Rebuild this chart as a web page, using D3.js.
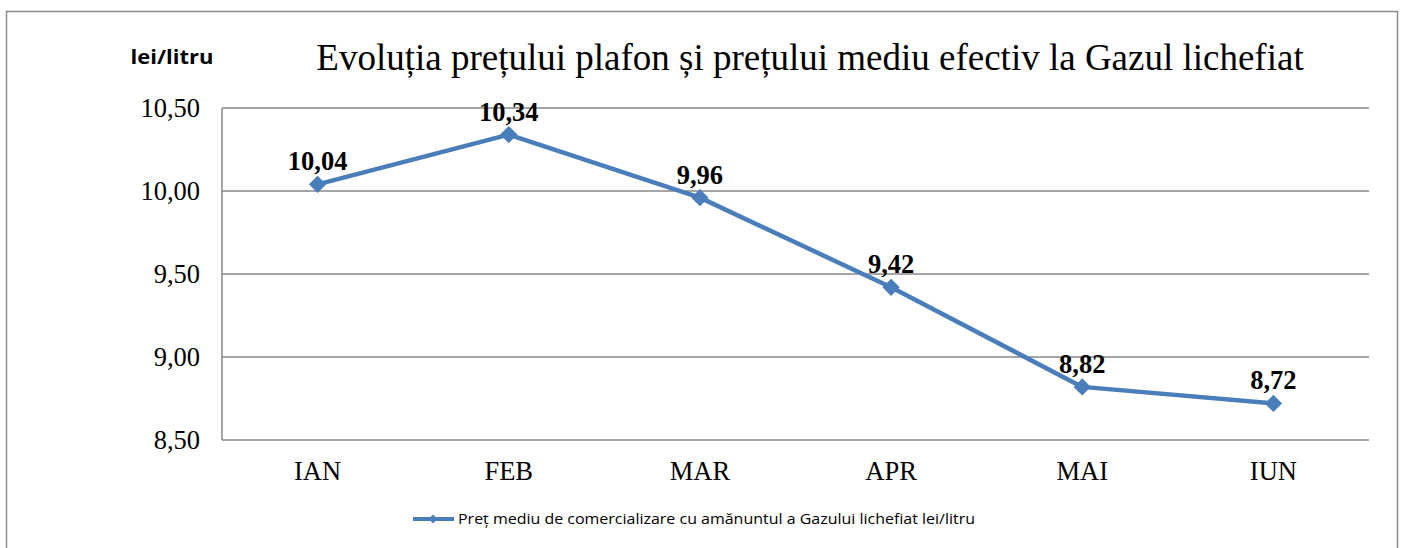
<!DOCTYPE html>
<html>
<head>
<meta charset="utf-8">
<script src="https://cdn.jsdelivr.net/npm/d3@7"></script>
<style>
  body { margin: 0; background: #fff; }
  #graf { width: 1404px; height: 548px; }
</style>
</head>
<body>
<div id="graf"></div>
<script>
// Datos
const luni = ["IAN", "FEB", "MAR", "APR", "MAI", "IUN"];
const pretMediu = [10.04, 10.34, 9.96, 9.42, 8.82, 8.72];
const ticks = [8.5, 9.0, 9.5, 10.0, 10.5];

const titlu = "Evoluția prețului plafon și prețului mediu efectiv la Gazul lichefiat";
const legenda = "Preț mediu de comercializare cu amănuntul a Gazului lichefiat lei/litru";

const anchoTotal = 1404;
const altoTotal = 548;
const margins = { top: 108, right: 35, bottom: 108, left: 222 };
const ancho = anchoTotal - margins.left - margins.right;
const alto = altoTotal - margins.top - margins.bottom;

const svg = d3.select("#graf")
  .append("svg")
  .attr("width", anchoTotal)
  .attr("height", altoTotal);

// marco exterior
svg.append("rect")
  .attr("x", 6.5).attr("y", 11.5)
  .attr("width", 1391).attr("height", 560)
  .attr("fill", "none")
  .attr("stroke", "#8c8c8c")
  .attr("stroke-width", 1.5);

const g = svg.append("g")
  .attr("transform", `translate(${margins.left}, ${margins.top})`);

const x = d3.scaleBand().domain(luni).range([0, ancho]);
const y = d3.scaleLinear().domain([8.5, 10.5]).range([alto, 0]);

const fmt = (v) => d3.format(".2f")(v).replace(".", ",");

// grilla
g.selectAll(".grid")
  .data(ticks)
  .enter()
  .append("line")
  .attr("x1", 0).attr("x2", ancho)
  .attr("y1", (d) => y(d)).attr("y2", (d) => y(d))
  .attr("stroke", "#878787")
  .attr("stroke-width", 1.5);

// eje vertical
g.append("line")
  .attr("x1", 0).attr("x2", 0)
  .attr("y1", 0).attr("y2", alto)
  .attr("stroke", "#878787")
  .attr("stroke-width", 1.5);

// etiquetas eje y
g.selectAll(".ytick")
  .data(ticks)
  .enter()
  .append("text")
  .attr("x", -22)
  .attr("y", (d) => y(d) + 9)
  .attr("text-anchor", "end")
  .style("font-family", "'Liberation Serif', serif")
  .style("font-size", "26.5px")
  .text(fmt);

// etiquetas eje x
g.selectAll(".xtick")
  .data(luni)
  .enter()
  .append("text")
  .attr("x", (d) => x(d) + x.bandwidth() / 2)
  .attr("y", alto + 40)
  .attr("text-anchor", "middle")
  .style("font-family", "'Liberation Serif', serif")
  .style("font-size", "26.5px")
  .text((d) => d);

// linea
const linea = d3.line()
  .x((d, i) => x(luni[i]) + x.bandwidth() / 2)
  .y((d) => y(d));

g.append("path")
  .datum(pretMediu)
  .attr("d", linea)
  .attr("fill", "none")
  .attr("stroke", "#4a7ebb")
  .attr("stroke-width", 4.5)
  .attr("stroke-linejoin", "round");

g.selectAll(".punto")
  .data(pretMediu)
  .enter()
  .append("path")
  .attr("d", d3.symbol().type(d3.symbolDiamond2).size(190))
  .attr("transform", (d, i) => `translate(${x(luni[i]) + x.bandwidth() / 2}, ${y(d)})`)
  .attr("fill", "#4a7ebb");

// etiquetas de valores
g.selectAll(".valor")
  .data(pretMediu)
  .enter()
  .append("text")
  .attr("x", (d, i) => x(luni[i]) + x.bandwidth() / 2)
  .attr("y", (d) => y(d) - 14)
  .attr("text-anchor", "middle")
  .style("font-family", "'Liberation Serif', serif")
  .style("font-size", "26.5px")
  .style("font-weight", "bold")
  .text(fmt);

// titulo
svg.append("text")
  .attr("x", 810)
  .attr("y", 70)
  .attr("text-anchor", "middle")
  .style("font-family", "'Liberation Serif', serif")
  .style("font-size", "37px")
  .text(titlu);

// unidad
svg.append("text")
  .attr("x", 172)
  .attr("y", 64)
  .attr("text-anchor", "middle")
  .attr("textLength", 83)
  .attr("lengthAdjust", "spacingAndGlyphs")
  .style("font-family", "'Open Sans', sans-serif")
  .style("font-size", "20px")
  .style("font-weight", "bold")
  .text("lei/litru");

// leyenda
const leg = svg.append("g").attr("transform", "translate(413, 519)");
leg.append("line")
  .attr("x1", 0).attr("x2", 41)
  .attr("y1", 0).attr("y2", 0)
  .attr("stroke", "#4a7ebb")
  .attr("stroke-width", 4);
leg.append("path")
  .attr("d", d3.symbol().type(d3.symbolDiamond2).size(50))
  .attr("transform", "translate(20, 0)")
  .attr("fill", "#4a7ebb");
leg.append("text")
  .attr("x", 45)
  .attr("y", 5)
  .attr("textLength", 517)
  .attr("lengthAdjust", "spacingAndGlyphs")
  .style("font-family", "'Open Sans', sans-serif")
  .style("font-size", "14.5px")
  .text(legenda);
</script>
</body>
</html>
